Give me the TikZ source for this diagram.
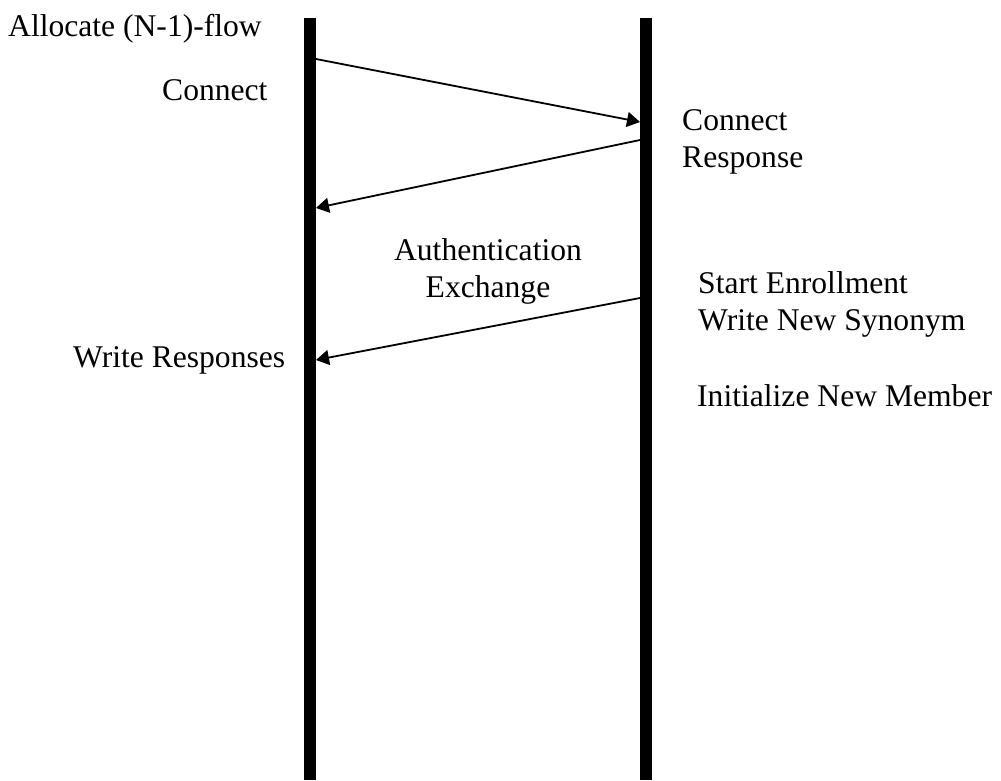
\documentclass[tikz,border=0pt]{standalone}
\usepackage{fontspec}
\setmainfont{Liberation Serif}
\usetikzlibrary{arrows.meta}
\begin{document}
\begin{tikzpicture}[x=1pt,y=-1pt,
  lifeline/.style={line width=12pt},
  msg/.style={line width=1.8pt,-{Triangle[length=13pt,width=15pt]}},
  lbl/.style={anchor=base west,inner sep=0pt,font=\fontsize{31.6}{37}\selectfont,align=left},
  lblc/.style={anchor=base,inner sep=0pt,font=\fontsize{31.6}{37}\selectfont,align=center}]
\useasboundingbox (0,0) rectangle (1001,780);
% lifelines
\coordinate (Ltop) at (310,18);
\coordinate (Lbot) at (310,780);
\coordinate (Rtop) at (646,18);
\coordinate (Rbot) at (646,780);
\draw[lifeline] (Ltop) -- (Lbot);
\draw[lifeline] (Rtop) -- (Rbot);
% message endpoints
\coordinate (m1s) at (316,59);
\coordinate (m1e) at (640,122);
\coordinate (m2s) at (640,140);
\coordinate (m2e) at (316,208);
\coordinate (m3s) at (640,298);
\coordinate (m3e) at (316,360);
\draw[msg] (m1s) -- (m1e);
\draw[msg] (m2s) -- (m2e);
\draw[msg] (m3s) -- (m3e);
% labels
\node[lbl] (alloc) at (8,36) {Allocate (N-1)-flow};
\node[lbl] (conn) at (162,100) {Connect};
\node[lbl,anchor=north west] (connresp) at (682,109) {Connect\\Response};
\node[lblc,anchor=north] (auth) at (488,238) {Authentication\\Exchange};
\node[lbl,anchor=north west] (start) at (698,271) {Start Enrollment\\Write New Synonym};
\node[lbl] (init) at (697,406) {Initialize New Member};
\node[lbl] (wresp) at (73,367) {Write Responses};
\end{tikzpicture}
\end{document}
